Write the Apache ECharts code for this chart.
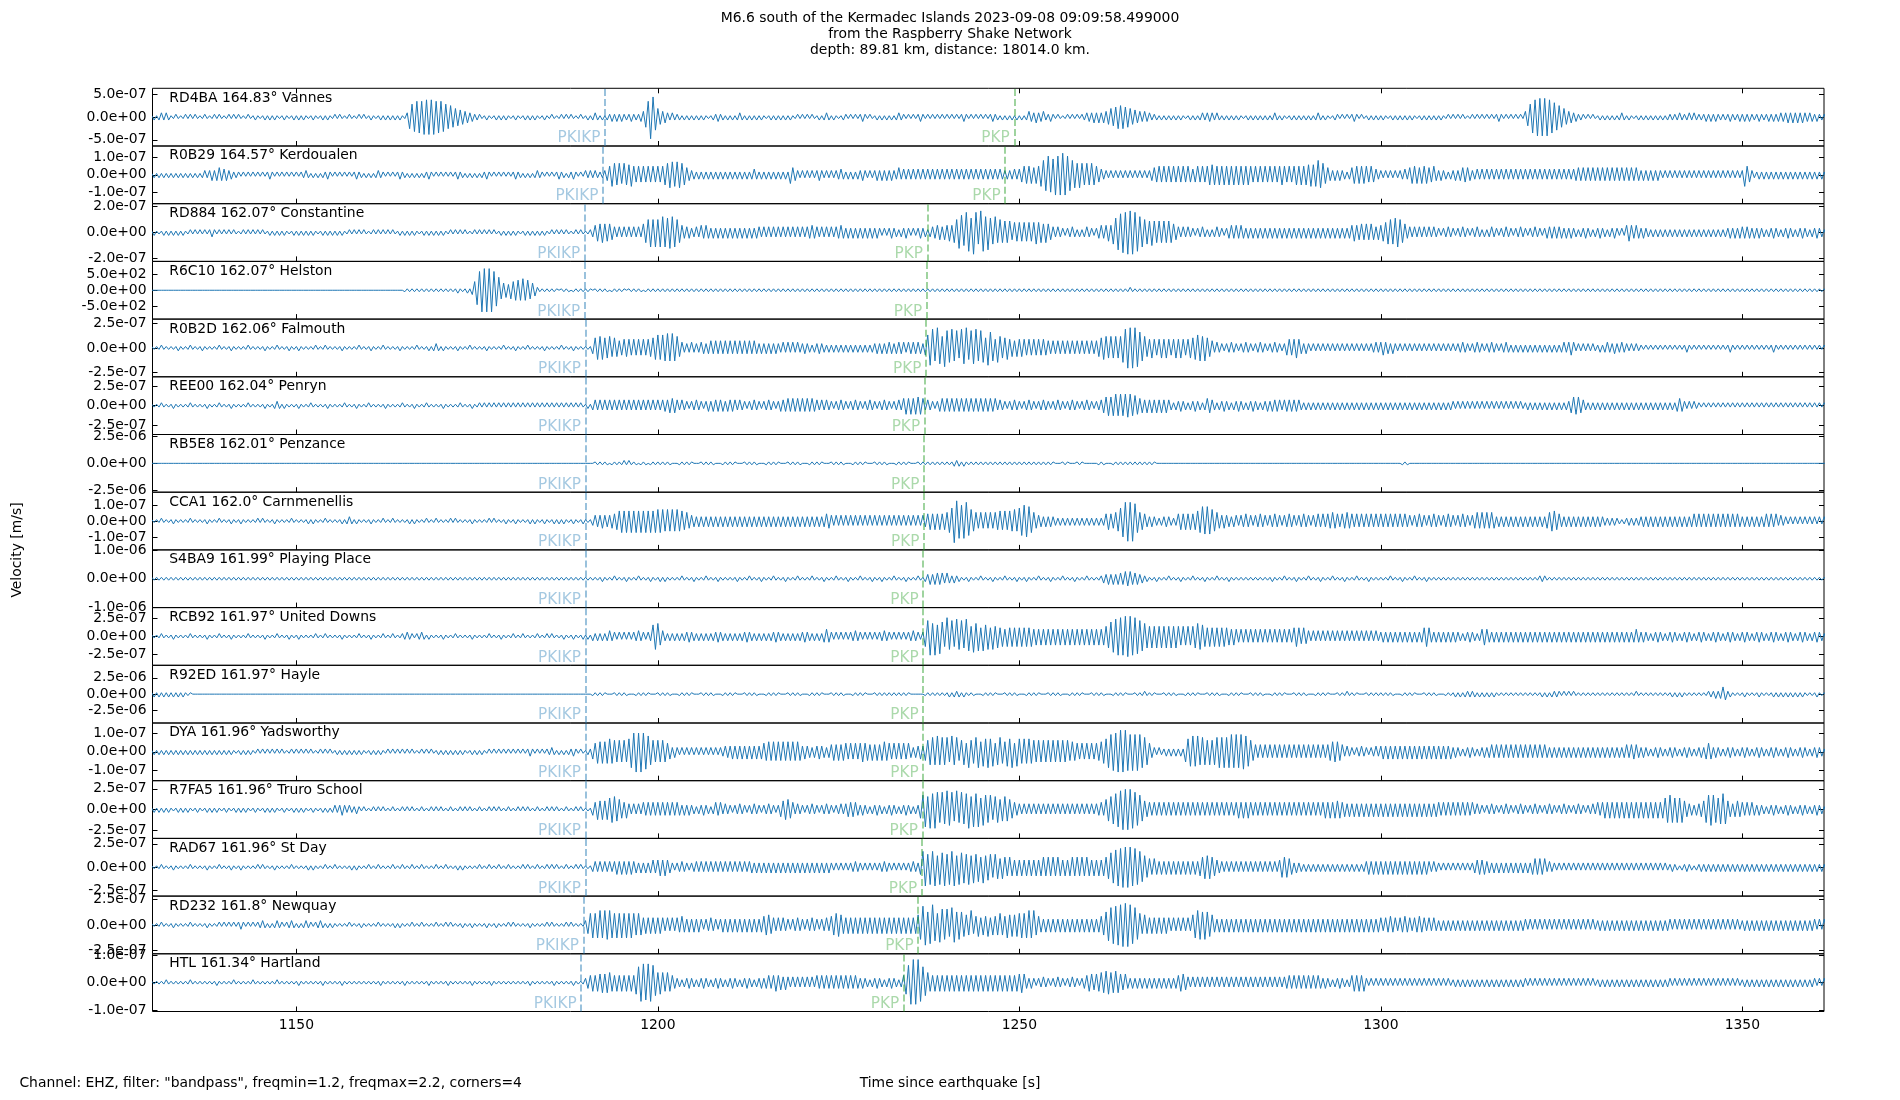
<!DOCTYPE html>
<html><head><meta charset="utf-8">
<script src="https://cdn.jsdelivr.net/npm/echarts@6/dist/echarts.min.js"></script>
<style>html,body{margin:0;padding:0;background:#fff}#c{width:1900px;height:1100px}</style>
</head><body><div id="c"></div>
<script>
// ---------------- data ----------------
const titleLines = ["M6.6 south of the Kermadec Islands 2023-09-08 09:09:58.499000", "from the Raspberry Shake Network", "depth: 89.81 km, distance: 18014.0 km."];
const stationNames = ["RD4BA 164.83° Vannes","R0B29 164.57° Kerdoualen","RD884 162.07° Constantine","R6C10 162.07° Helston","R0B2D 162.06° Falmouth","REE00 162.04° Penryn","RB5E8 162.01° Penzance","CCA1 162.0° Carnmenellis","S4BA9 161.99° Playing Place","RCB92 161.97° United Downs","R92ED 161.97° Hayle","DYA 161.96° Yadsworthy","R7FA5 161.96° Truro School","RAD67 161.96° St Day","RD232 161.8° Newquay","HTL 161.34° Hartland"];
const yLimits = [6.37e-7,1.63e-7,2.22e-7,915,2.98e-7,3.68e-7,2.67e-6,1.82e-7,1.02e-6,4.07e-7,4.43e-6,1.58e-7,3.49e-7,3.07e-7,2.83e-7,1.04e-7];
const yTickValues = [5e-7,1e-7,2e-7,500,2.5e-7,2.5e-7,2.5e-6,1e-7,1e-6,2.5e-7,2.5e-6,1e-7,2.5e-7,2.5e-7,2.5e-7,1e-7];
const pkikpTimes = [1192.7,1192.4,1189.9,1189.9,1190.0,1190.0,1190.0,1190.0,1190.0,1190.0,1190.0,1190.0,1190.0,1190.0,1189.7,1189.4];
const pkpTimes = [1249.3,1248.05,1237.3,1237.2,1237.1,1236.9,1236.8,1236.8,1236.7,1236.7,1236.7,1236.7,1236.6,1236.5,1236.0,1234.0];
const xTickValues = [1150,1200,1250,1300,1350];
const xRange = [1130.1, 1361.3];
const bottomNote = 'Channel: EHZ, filter: "bandpass", freqmin=1.2, freqmax=2.2, corners=4';
const xLabel = 'Time since earthquake [s]';
const yLabel = 'Velocity [m/s]';
// Traces: successive peak amplitudes (alternating sign), 3 peaks per second from t=1130 s,
// each char = amplitude in twentieths of the panel's y-limit (base-36 digit), one string per 10 s.
const traceStart = 1130, peaksPerSecond = 3;
const trace_RD4BA = ["121232321121112121211121112121","112121211121121112121211121112","121211121112121121211121112121","1211121212121211389abbbcccccbb","ba9887665544332221121112121211","121112121211121121112121211121","12123212122323232223222347bfe9","654432322212121212121112232212","121232121212121112121212121121","212121121232121112212121232121","121212121232212121232121212121","212121232121212121232212121212","121243343342232121112121212233","343434456678887765544343322212","121212121112121232333232121212","121112121212121232121112121212","121232121112212121232121121212","121112121212121112121212121121","212121112121212121232121212121","469bcdddddcba98765443322212121","121212121232121112121212121212","222232223232222323232222232223","232322232223232333343434343333","232222"];
const trace_R0B29 = ["121212121212121212121232343454","443322212121212121232121212121","212232121212232121212121232212","121232212121232212121212232121","212121232212121212232121212121","232212121232212121232212232121","323232223468878687786565656565","656789989987543323232323232323","232323232343232323232323265432","323232343232323343232323343232","343434343353434343434343434343","434343434343434343434343333343","4566665668abdcbedefedba9898787","876543323232323232323232345565","656565656565456565677767676767","676767656565656565676565676767","7878a9865434343323566666656543","323232323343566656665564343323","343455543343434343434343434343","434343434343434343434454545454","545454545454545454343434343232","323232323232323232323232323232","386532232323232323232323232323","232323"];
const trace_RD884 = ["121112121212121121212121232121","212121112121212121121212121112","121212121112121212121121212121","112121212121121212121112121212","121121212121112121212121121212","121112121212121121212121112121","112356676665434343434343679a9a","9abaabba9754443343545434343434","343434343434434343434343434343","434454434343434454343434343434","343232343323343232343323445545","56579bc9edafe8fdbca8b797878576","767676787767654343323343232343","3234545658acdeefffedba98898787","878765434343323343232343323454","545434343434343434343434343434","343434343434343434565565656545","567898aa9764434343434343323343","323343323343232343323343323343","323343323444444434343323343323","343323343232565454343323232323","232323232323232323232323343434","444434343323343323343323343323","343323"];
const trace_R6C10 = ["000000000000000000000000000000","000000000000000000000000000000","000000000000000000000000000000","000000000000000111111111111111","111111121112136adfffffdb965546","677787765421111111101111011111","111011111101111110111111011111","111111111111111111111111111111","111111111111111111111111111111","111111111111111111111111111111","111111111111111111111111111111","111111111111111111111111111111","111111111111111111111111111111","111111111111111121111111111111","111111111111111111111111111111","111111111111111111111111111111","111111111111111111111111111111","111111111111111111111111111111","111111111111111111111111111111","111111111111111111111111111111","111111111111111111111111111111","111111111111111111111111111111","111111111111111111111111111111","111111"];
const trace_R0B2D = ["111121111112111121111211111121","111211111121111112111121111211","121111112111211111121111112111","121111211111121111112111121232","121111121111211111121111112111","121111211111121111112111121111","111478887786765566656565656678","9899a9a98643334333443454545454","545454545454343434343343434343","343323343323232323232323232323","34343444344443444444359cd9eb8d","cad9c7dbe8cbd9ca7cb96a87786656","666565656565545454545454545454","5456788787878adeeeedb986676567","676567676567789989765343323343","323343323343323343323565676434","323232323232323232323232323343","454434323232323232323232323232","323343323343323343323343232323","232323232323232343454232323232","232343343343323232212121212121","212121232121212121212121232121","212121212121232121212121212121","212121"];
const trace_REE00 = ["111121111211111121111112111121","111211111121111112111232121111","121111211111121111112111121111","211111121111112111121111211111","121111112111121121212121212121","212121212121212121212121212121","121343434343434343434343434343","434445554343323343323434444434","444343323343323343323444545454","545454434343323343323343323343","323343323343565656665343323454","545454545454545454545343323343","323343323343323343323343323343","323345676787878887765545454545","454323343323343323554323343323","343323343323343444434444444323","232323232323232323232323232323","232323232323232323232323232323","323232323232323232323232323232","232323232323232323356665432323","232323232323232323232323232323","232454323232212121212121212121","212121212121212121212121212121","212121"];
const trace_RB5E8 = ["000000000000000000000000000000","000000000000000000000000000000","000000000000000000000000000000","000000000000000000000000000000","000000000000000000000000000000","000000000000000000000000000000","000011111101111121211101110111","111111000111111000111111000111","111000111111000111111000111111","000111111000111111000111111000","111111000111111000111111111111","111222121111111111111111111111","111111111111111000111000111000","000111000111111111111111111000","000000000000000000000000000000","000000000000000000000000000000","000000000000000000000000000000","000000000111000000000000000000","000000000000000000000000000000","000000000000000000000000000000","000000000000000000000000000000","000000000000000000000000000000","000000000000000000000000000000","000000"];
const trace_CCA1 = ["111121111211111121111112111121","111211121111112121111211111121","111112121111211111121232121111","121111211121111112121111211121","111121211111121111112121111211","121111121211121112121211121112","111344454445567878787878787878","888787878776654434343434343434","343434343434343434343434343434","343434343455434343434343434343","434343434343434343434456565656","689fecbcda87656565656676767787","9abba8654434343323232323232323","2323235655679bdedec86654343323","3433235656565678a9a98765454434","434454434454434454434454434454","434454545565545565545454545454","545454545454434454434454434454","434454434565656565343434343434","343434343567765434343434343434","343323232212232323343434343434","343434343454545454545454545454","343434343454545343323232323232","323232"];
const trace_S4BA9 = ["111111111111111111111111111111","111111111111111111111111111111","111111111111111111111111111111","111111111111111111111111111111","111111111111111111111111111111","111111111111111111111111111111","111111121111211112111121111211","121211111121111211112111121111","111211112111121111211112111121","111121111211112111121111211112","111211112111121111211234344443","432322111211112111121111211112","111211112111121111211112111121","111123343434445554443322111211","112111121111211112111121111211","111111111111111211112111121111","211112111121111211112111121111","111121111211112111121111111111","111111111111111111111111111111","111111222111111111111111111111","111111111111111111111111111111","111111111111111111111111111111","111111111111111111111111111111","111111"];
const trace_RCB92 = ["111121111211111121111112111121","111211111121111112111121111211","121111112111211111121111112111","121111211121112232212232121111","121111211111121111112111121111","211121111121112121111211121112","121323232343323232323343323389","964323232323343323232323343323","232323343323232323343323232323","343323232454323232323343323232","3233433232323233433237bd9d8ca7","d9b7c9b8ca7b9a6a89697867576767","676767565656565656565656565656","56565678abcdddeeeddcba98787878","787878767676789987676767676656","545454545454545454545454676565","434343434343434343434343434343","343434343434343434676434343434","343323343323565434343434343434","343434343434343434343434343434","343434343434343454343323343323","343323343323343323343323343323","343323343323343323343323343323","343323"];
const trace_R92ED = ["121212121212121110000000000000","000000000000000000000000000000","000000000000000000000000000000","000000000000000000000000000000","000000000000000000000000000000","000000000000000000000000000000","000111111000111111000111111000","111111000111111000111111000111","111000111111000111111000111111","000111111000111111000111111000","111111111111111000000111111111","121222121111000111111000111111","000111111000111111000111111000","111111000111111000111121111000","111111000111111000111111000111","111000111111000111111000111111","000111111000111121111000111111","111111000111111000111111000111","121212222212121212111111111111","111111121212222121212111111111","111111111111111121111111111111","121212111111111122232354221111","121111121111121212121212121111","121111"];
const trace_DYA = ["121212121212121212121212121212","121211121212112121212121211121","212121211121212112121212121211","121212112121212121211121212112","121212121211121212112121212121","212121232121212232121212232121","1225687878988787879bdededcb987","878765343232323232323232323344","454545454545456676767676767676","454434454434565656656565676656","565676656565656434454689a9b9a9","a7b9a6896b88ab7a9b9a69a87a9b6a","989898878787878787878676656565","6566789bcddefefdcdcdcba9643232","23232323279abab9a98989abababcb","cbccba865454545454545454545454","545454545677765343323343323343","454545454545454545454545454545","343323343323343454545454545454","545454545434343434343434343434","343434343434545554343323343323","343323343323343565343323343323","343323343323343323343323343323","343323"];
const trace_R7FA5 = ["121212121112121211121112121211","121112121211121112121211121112","121211121112121232343232232121","112121211121112121211121112121","211121112121211121112121211121","112121211121112121211121112121","111457676789987656434343545454","545454545434343323343323545343","323343323343323343323567765343","323343323343323343455554343323","34332334332334332336ac9dbdc9ca","dbc8d9cabd9cbc8ba9a79978987654","434343434343434343434343434343","434454789abcdeeeedcba865545454","545454545454545454545454545454","565656545454545454545454545454","545454565656665545454545454545","454545454545454545454545545454","545454545343323343323343323343","323343323343323343323343323343","545656565656565656565656565689","a989896544344569aba98aba654565","545454343323343323343323343323","343323"];
const trace_RAD67 = ["111121111211111121111112111121","111211121111112121111211111121","111112121111211121111112121111","211121111121112111211121111121","112111121211111121112111211121","111121211121112121211121112121","111343434343454545454434343454","565654323343323343434343434343","434343434434343434343434343434","343434343434323232323343323232","32334332323232334335bd9cbd8cad","9cbd8cab9c8b9a7b89979868767656","565656565676767676565676767676","56565678abcddeeeeddcba87656545","454545454545454678887654434343","434343434343434343577765343323","232323232323232323232323454545","454545454545454545454343323232","323232323455554434343434343434","343565656343323232323232323232","323232323232323232323232323232","232212232212232323232323232323","232323232323232323232323232323","232323"];
const trace_RD232 = ["111121111211111121111112111121","212121232121212232121232212232","121232212232121211111121111211","111121111112121111211121111121","112121111211121111121112111121","211111121111112121111121211111","368989a9aaa9898989898787565656","565454545565454545434454434545","454545454545456776545454434454","434454434454678876565656565656","5656565656565656567ade9deb8cba","b8cc9a9877a6685768576787697878","8989a9a76545454545454545454545","4545679bcddeefffedca8676565656","56545454545479aa9a987545454545","454545454545454545454545454545","454545454545454545454545454545","545565545565545565545454343434","343434343434343434343434343434","434343434343434343434343434343","343434343434343434343434343434","434343434343434343434343434343","343434343434343434343434343434","434343"];
const trace_HTL = ["111111211111111121111111111211","111121111111211111111121111111","121111111112111111121111111111","111112111111111211111111121111","111211111111121111111211111111","111111121111111112111111121111","3456566767765656565658bddcddc9","787676543323343323343323343323","343323343323343454565545434343","434343545454545454545454343323","34332334332358cfgfgdb976565656","565656565656565656565656565656","676434323343323343323343323456","656677887787656434343434343434","343434566543434343434343434343","434343434343434343434454545454","545454343323343323565656323232","323232323232323232323232323232","232323232323232323232323232323","323232323232323232323232323232","232323232323232323232323232323","323232323232323232323232323232","232323232323232323232323232323","323232"];
const traces = [trace_RD4BA,trace_R0B29,trace_RD884,trace_R6C10,trace_R0B2D,trace_REE00,trace_RB5E8,trace_CCA1,trace_S4BA9,trace_RCB92,trace_R92ED,trace_DYA,trace_R7FA5,trace_RAD67,trace_RD232,trace_HTL];

// ---------------- build ----------------
const FONT = 'DejaVu Sans';
const BLUE = '#1f77b4';
const PKIKP_COLOR = 'rgba(31,119,180,0.5)';
const PKP_COLOR = 'rgba(44,160,44,0.5)';
const GL = 152.5, GR = 1824, GTOP = 88.3, PH = 57.7;

function decodeTrace(blocks, ylim) {
  const s = blocks.join('');
  const out = [];
  for (let i = 0; i < s.length; i++) {
    const v = parseInt(s[i], 36);
    const sign = (i % 2 === 0) ? 1 : -1;
    out.push([traceStart + i / peaksPerSecond, sign * v / 20 * ylim]);
  }
  return out;
}
function fmtE(v) {
  const s = Number(v).toExponential(1);
  const m = s.match(/^(-?\d\.\d)e([+-])(\d+)$/);
  if (!m) return s;
  return m[1] + 'e' + m[2] + (m[3].length < 2 ? '0' + m[3] : m[3]);
}

const grids = [], xAxes = [], yAxes = [], series = [], graphics = [];
const N = stationNames.length;
for (let k = 0; k < N; k++) {
  const top = GTOP + k * PH;
  const yl = yLimits[k], yt = yTickValues[k];
  const yTicks = [-yt, 0, yt];
  grids.push({left: GL, top: top, width: GR - GL, height: PH, show: true, borderColor: '#000', borderWidth: 1, backgroundColor: 'transparent'});
  xAxes.push({
    type: 'value', gridIndex: k, min: xRange[0], max: xRange[1], position: 'bottom',
    axisLine: {show: false, onZero: false},
    axisTick: {show: true, inside: true, length: 5, customValues: xTickValues, lineStyle: {color: '#000', width: 1}},
    axisLabel: {show: k === N - 1, customValues: xTickValues, formatter: v => String(v), fontSize: 13.9, fontFamily: FONT, color: '#000', margin: 7},
    splitLine: {show: false}
  });
  yAxes.push({
    type: 'value', gridIndex: k, min: -yl, max: yl, position: 'left',
    axisLine: {show: false, onZero: false},
    axisTick: {show: true, inside: true, length: 5, customValues: yTicks, lineStyle: {color: '#000', width: 1}},
    axisLabel: {show: true, customValues: yTicks, formatter: fmtE, fontSize: 13.9, fontFamily: FONT, color: '#000', margin: 6},
    splitLine: {show: false}
  });
  series.push({
    type: 'line', xAxisIndex: k, yAxisIndex: k, data: decodeTrace(traces[k], yl),
    showSymbol: false, symbol: 'none', smooth: false, clip: true, z: 2,
    lineStyle: {color: BLUE, width: 1}, itemStyle: {color: BLUE},
    markLine: {
      silent: true, symbol: ['none', 'none'], animation: false, label: {show: false},
      data: [
        {xAxis: pkikpTimes[k], lineStyle: {color: PKIKP_COLOR, type: [7, 3], width: 1.8}},
        {xAxis: pkpTimes[k], lineStyle: {color: PKP_COLOR, type: [7, 3], width: 1.8}}
      ]
    }
  });
  series.push({
    type: 'scatter', xAxisIndex: k, yAxisIndex: k, symbolSize: 1, silent: true, z: 3,
    itemStyle: {color: 'rgba(0,0,0,0)'},
    label: {show: true, position: 'left', distance: 4, formatter: p => p.name, fontSize: 15.3, fontFamily: FONT, verticalAlign: 'bottom', align: 'right'},
    data: [
      {name: 'PKIKP', value: [pkikpTimes[k], -yl * 0.999], label: {color: PKIKP_COLOR}},
      {name: 'PKP', value: [pkpTimes[k], -yl * 0.999], label: {color: PKP_COLOR}}
    ]
  });
  graphics.push({type: 'text', left: GL + 16.8, top: top + 2.8, z: 10,
    style: {text: stationNames[k], fontSize: 13.9, fontFamily: FONT, fill: '#000'}});
}
// right-side y ticks
for (let k = 0; k < N; k++) {
  const yl = yLimits[k], yt = yTickValues[k];
  yAxes.push({
    type: 'value', gridIndex: k, min: -yl, max: yl, position: 'right',
    axisLine: {show: false, onZero: false},
    axisTick: {show: true, inside: true, length: 5, customValues: [-yt, 0, yt], lineStyle: {color: '#000'}},
    axisLabel: {show: false}, splitLine: {show: false}
  });
}
// top ticks on the first panel
xAxes.push({
  type: 'value', gridIndex: 0, min: xRange[0], max: xRange[1], position: 'top',
  axisLine: {show: false, onZero: false},
  axisTick: {show: true, inside: true, length: 5, customValues: xTickValues, lineStyle: {color: '#000'}},
  axisLabel: {show: false}, splitLine: {show: false}
});

const titleY = [18.3, 34.5, 50.7];
titleLines.forEach((t, i) => graphics.push({type: 'text', x: 950, y: titleY[i],
  style: {text: t, fontSize: 13.9, fontFamily: FONT, fill: '#000', align: 'center', verticalAlign: 'middle'}}));
graphics.push({type: 'text', x: 17.5, y: 550, rotation: Math.PI / 2,
  style: {text: yLabel, fontSize: 13.9, fontFamily: FONT, fill: '#000', align: 'center', verticalAlign: 'middle'}});
graphics.push({type: 'text', x: 19.4, y: 1083.5,
  style: {text: bottomNote, fontSize: 13.9, fontFamily: FONT, fill: '#000', align: 'left', verticalAlign: 'middle'}});
graphics.push({type: 'text', x: 950, y: 1083.5,
  style: {text: xLabel, fontSize: 13.9, fontFamily: FONT, fill: '#000', align: 'center', verticalAlign: 'middle'}});

const chart = echarts.init(document.getElementById('c'), null, {renderer: 'canvas', width: 1900, height: 1100});
chart.setOption({
  animation: false,
  backgroundColor: '#fff',
  textStyle: {fontFamily: FONT},
  grid: grids, xAxis: xAxes, yAxis: yAxes, series: series, graphic: graphics
});
</script>
</body></html>
